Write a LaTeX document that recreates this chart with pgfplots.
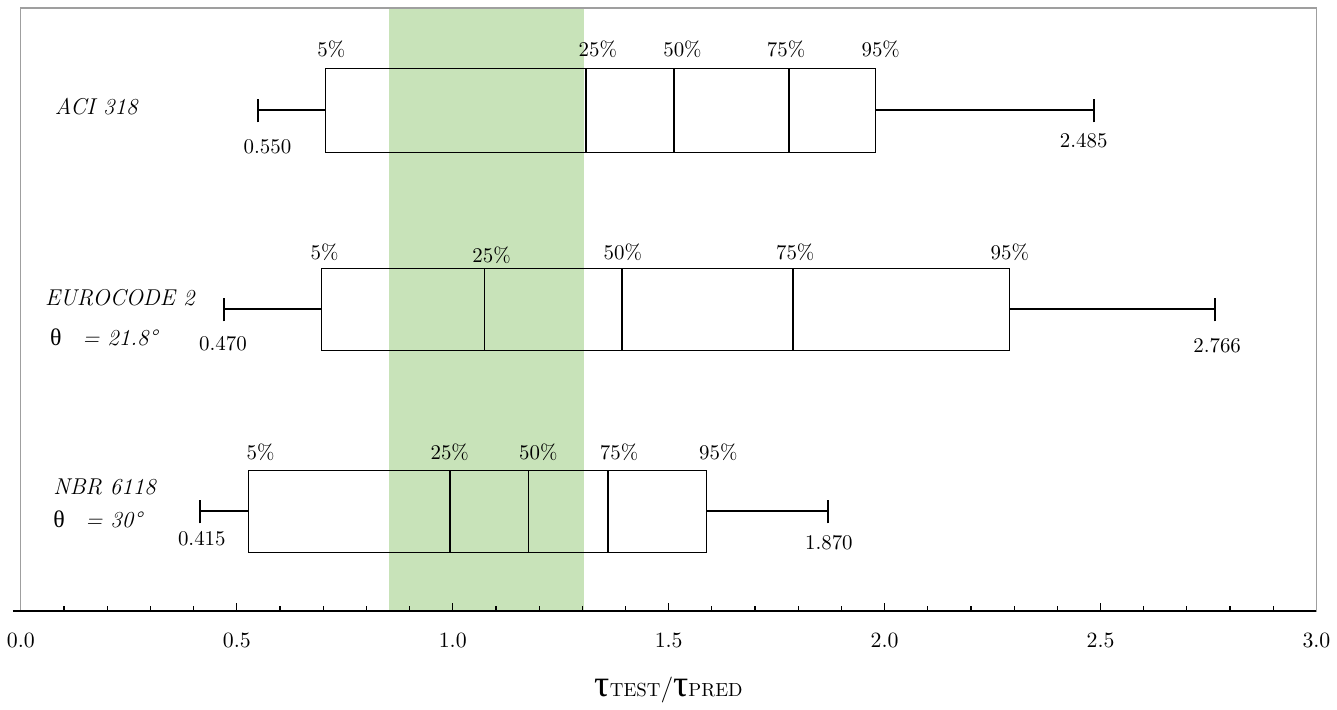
\documentclass[border=0pt]{standalone}
\usepackage{fontspec}
\usepackage{pgfplots}
\pgfplotsset{compat=1.18}
\newfontfamily\grk{Liberation Serif}
\definecolor{band}{HTML}{C8E3B9}
\begin{document}
\begin{tikzpicture}
\begin{axis}[
  name=ax,
  scale only axis,
  width=651pt, height=303pt,
  xmin=0, xmax=3, ymin=0, ymax=606,
  clip=false,
  axis on top,
  axis line style={gray!75, line width=0.6pt},
  xtick={0,0.5,...,3},
  minor x tick num=4,
  xtick pos=bottom,
  ytick=\empty,
  tick align=inside,
  major tick length=4pt,
  minor tick length=2.5pt,
  tick style={black, line width=0.6pt},
  xticklabel style={font=\fontsize{10.5}{12}\selectfont, yshift=-8pt},
  /pgf/number format/.cd, fixed, fixed zerofill, precision=1,
  /pgfplots/.cd,
  xlabel={{\grk\fontsize{19}{20}\selectfont τ}{\fontsize{9.5}{10}\selectfont TEST}{\fontsize{13}{14}\selectfont /}{\grk\fontsize{19}{20}\selectfont τ}{\fontsize{9.5}{10}\selectfont PRED}},
  xlabel style={at={(axis description cs:0.5,0)}, anchor=base, yshift=-43pt},
]
% green band
\addplot[fill=band, draw=none] coordinates {(0.853,0) (1.304,0) (1.304,606) (0.853,606)} -- cycle;

% ---- ACI 318 (center 503)
\addplot[black, line width=0.55pt] coordinates {(0.705,461) (1.979,461) (1.979,545) (0.705,545) (0.705,461)};
\addplot[black, line width=0.75pt, unbounded coords=jump] coordinates {
 (1.309,461) (1.309,545) (nan,nan)
 (1.512,461) (1.512,545) (nan,nan)
 (1.779,461) (1.779,545)};
\addplot[black, line width=1pt, unbounded coords=jump] coordinates {
 (0.550,503) (0.705,503) (nan,nan)
 (0.550,491) (0.550,515) (nan,nan)
 (1.979,503) (2.485,503) (nan,nan)
 (2.485,491) (2.485,515)};

% ---- EUROCODE 2 (center 303)
\addplot[black, line width=0.55pt] coordinates {(0.696,262) (2.290,262) (2.290,344) (0.696,344) (0.696,262)};
\addplot[black, line width=0.75pt, unbounded coords=jump] coordinates {
 (1.074,262) (1.074,344) (nan,nan)
 (1.392,262) (1.392,344) (nan,nan)
 (1.788,262) (1.788,344)};
\addplot[black, line width=1pt, unbounded coords=jump] coordinates {
 (0.470,303) (0.696,303) (nan,nan)
 (0.470,291) (0.470,315) (nan,nan)
 (2.290,303) (2.766,303) (nan,nan)
 (2.766,291) (2.766,315)};

% ---- NBR 6118 (center 100)
\addplot[black, line width=0.55pt] coordinates {(0.527,59) (1.588,59) (1.588,141) (0.527,141) (0.527,59)};
\addplot[black, line width=0.75pt, unbounded coords=jump] coordinates {
 (0.994,59) (0.994,141) (nan,nan)
 (1.175,59) (1.175,141) (nan,nan)
 (1.359,59) (1.359,141)};
\addplot[black, line width=1pt, unbounded coords=jump] coordinates {
 (0.415,100) (0.527,100) (nan,nan)
 (0.415,88) (0.415,112) (nan,nan)
 (1.588,100) (1.870,100) (nan,nan)
 (1.870,88) (1.870,112)};

% percentile labels
\begin{scope}[every node/.style={font=\fontsize{10.5}{12}\selectfont, inner sep=0pt}]
\node at (axis cs:0.719,564) {5\%};
\node at (axis cs:1.336,564) {25\%};
\node at (axis cs:1.532,564) {50\%};
\node at (axis cs:1.772,564) {75\%};
\node at (axis cs:1.991,564) {95\%};
\node at (axis cs:0.571,466) {0.550};
\node at (axis cs:2.461,473) {2.485};

\node at (axis cs:0.703,360) {5\%};
\node at (axis cs:1.090,357) {25\%};
\node at (axis cs:1.394,360) {50\%};
\node at (axis cs:1.793,360) {75\%};
\node at (axis cs:2.290,360) {95\%};
\node at (axis cs:0.468,269) {0.470};
\node at (axis cs:2.770,267) {2.766};

\node at (axis cs:0.555,159) {5\%};
\node at (axis cs:0.993,159) {25\%};
\node at (axis cs:1.198,159) {50\%};
\node at (axis cs:1.385,159) {75\%};
\node at (axis cs:1.615,159) {95\%};
\node at (axis cs:0.419,73) {0.415};
\node at (axis cs:1.871,69) {1.870};
\end{scope}

% row labels
\begin{scope}[every node/.style={font=\fontsize{11.5}{13}\selectfont\itshape, inner sep=0pt, anchor=west}]
\node at (axis cs:0.078,507) {ACI 318};
\node at (axis cs:0.055,315) {EUROCODE 2};
\node at (axis cs:0.067,275) {{\upshape\grk\fontsize{12}{13}\selectfont θ}\hspace{0.9em}= 21.8°};
\node at (axis cs:0.074,125) {NBR 6118};
\node at (axis cs:0.074,92) {{\upshape\grk\fontsize{12}{13}\selectfont θ}\hspace{0.9em}= 30°};
\end{scope}
\end{axis}
\draw[black, line width=0.8pt] ([xshift=-4pt]ax.south west) -- (ax.south east);
\path[use as bounding box] ([xshift=-10.5pt,yshift=4pt]ax.north west) rectangle ([xshift=7pt,yshift=-46pt]ax.south east);
\end{tikzpicture}
\end{document}
